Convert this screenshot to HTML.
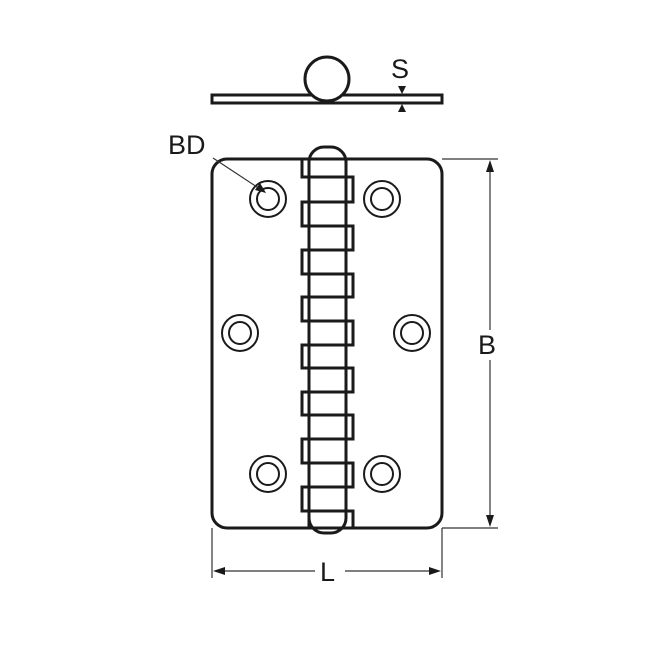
<!DOCTYPE html><html><head><style>body{margin:0;background:#fff}</style></head><body>
<svg width="664" height="665" viewBox="0 0 664 665" xmlns="http://www.w3.org/2000/svg" font-family="Liberation Sans, sans-serif">
<g fill="none" stroke="#1a1a1a" stroke-width="3">
<rect x="212" y="95" width="230" height="8" fill="#fff"/>
<circle cx="327" cy="79" r="22" fill="#fff"/>
<rect x="212" y="159" width="230" height="369" rx="15"/>
<rect x="309" y="147" width="37" height="386" rx="15" fill="#fff"/>
</g>
<g fill="none" stroke="#1a1a1a" stroke-width="3">
<rect x="302" y="159" width="44" height="18"/>
<rect x="309" y="177" width="44" height="25"/>
<rect x="302" y="202" width="44" height="24"/>
<rect x="309" y="226" width="44" height="24"/>
<rect x="302" y="250" width="44" height="24"/>
<rect x="309" y="274" width="44" height="23"/>
<rect x="302" y="297" width="44" height="24"/>
<rect x="309" y="321" width="44" height="24"/>
<rect x="302" y="345" width="44" height="23"/>
<rect x="309" y="368" width="44" height="24"/>
<rect x="302" y="392" width="44" height="23"/>
<rect x="309" y="415" width="44" height="24"/>
<rect x="302" y="439" width="44" height="24"/>
<rect x="309" y="463" width="44" height="24"/>
<rect x="302" y="487" width="44" height="24"/>
<rect x="309" y="511" width="44" height="17"/>
</g>
<g fill="none" stroke="#1a1a1a" stroke-width="2">
<circle cx="268" cy="199" r="18"/><circle cx="268" cy="199" r="11"/>
<circle cx="382" cy="199" r="18"/><circle cx="382" cy="199" r="11"/>
<circle cx="240" cy="333" r="18"/><circle cx="240" cy="333" r="11"/>
<circle cx="412" cy="333" r="18"/><circle cx="412" cy="333" r="11"/>
<circle cx="268" cy="474" r="18"/><circle cx="268" cy="474" r="11"/>
<circle cx="382" cy="474" r="18"/><circle cx="382" cy="474" r="11"/>
</g>
<g stroke="#333" stroke-width="1.2" fill="none">
<line x1="442" y1="159" x2="498" y2="159"/><line x1="442" y1="528" x2="498" y2="528"/>
<line x1="490" y1="170" x2="490" y2="330"/><line x1="490" y1="360" x2="490" y2="517"/>
<line x1="212" y1="528" x2="212" y2="578"/><line x1="442" y1="528" x2="442" y2="578"/>
<line x1="222" y1="571" x2="315" y2="571"/><line x1="345" y1="571" x2="432" y2="571"/>
<line x1="213" y1="158" x2="260" y2="189"/>
</g>
<g fill="#1a1a1a">
<polygon points="490,160 486,172 494,172"/><polygon points="490,527 486,515 494,515"/>
<polygon points="213,571 225,567 225,575"/><polygon points="441,571 429,567 429,575"/>
<polygon points="266,193 255,190 260,183"/>
<polygon points="402,94 398,86 406,86"/><polygon points="402,104 398,112 406,112"/>
</g>
<g fill="#1a1a1a" font-size="27">
<text x="391" y="78">S</text>
<text x="168" y="154">BD</text>
<text x="478" y="354">B</text>
<text x="320" y="581">L</text>
</g>
</svg>
</body></html>
